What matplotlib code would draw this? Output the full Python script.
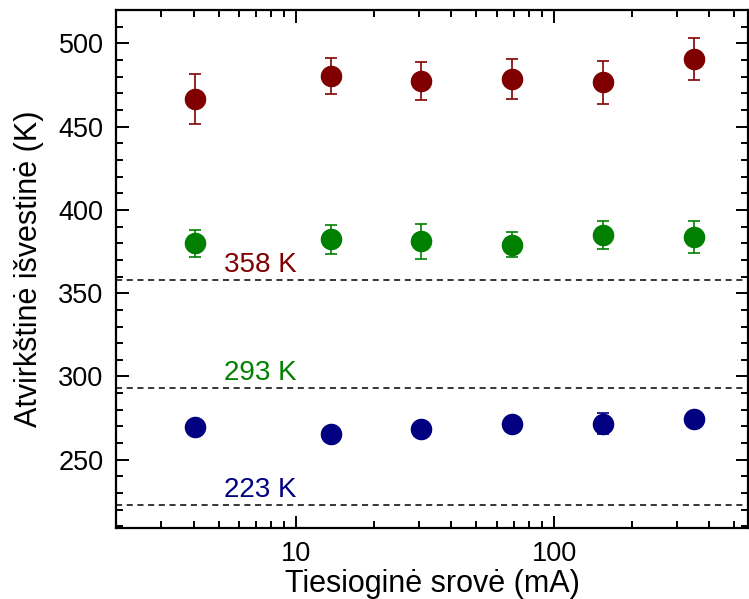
import matplotlib
matplotlib.use('Agg')
import matplotlib.pyplot as plt
from matplotlib.ticker import LogLocator, MultipleLocator, NullFormatter, FuncFormatter

plt.rcParams['font.family'] = ['Liberation Sans', 'DejaVu Sans']

# srovė (mA)
current = [4.05, 13.6, 30.6, 69, 155, 350]

# 358 K
t358 = [466.6, 480.4, 477.4, 478.6, 476.6, 490.6]
e358 = [15.0, 10.7, 11.6, 12.0, 12.9, 12.4]
# 293 K
t293 = [380.0, 382.4, 381.2, 379.2, 385.0, 384.0]
e293 = [8.0, 8.6, 10.5, 7.3, 8.4, 9.6]
# 223 K
t223 = [269.9, 265.3, 268.7, 271.7, 271.7, 274.3]
e223 = [3.0, 3.0, 3.0, 3.0, 6.5, 3.0]

levels = [358, 293, 223]
level_labels = ['358 K', '293 K', '223 K']
colors = ['#800000', '#008000', '#000080']

fig = plt.figure(figsize=(7.49, 5.99), dpi=100)
ax = fig.add_axes([0.155, 0.1185, 0.8435, 0.8645])

for y, e, c in zip([t358, t293, t223], [e358, e293, e223], colors):
    ax.errorbar(current, y, yerr=e, fmt='o', color=c, ms=14.5, ecolor=c,
                elinewidth=1.2, capsize=4, capthick=1.2, zorder=3)

for lvl, lab, c in zip(levels, level_labels, colors):
    ax.axhline(lvl, color='black', ls=(0, (4, 3)), lw=1.1, zorder=1)
    ax.text(5.25, lvl + 1.2, lab, color=c, fontsize=20, ha='left', va='bottom')

ax.set_xscale('log')
ax.set_xlim(2, 565)
ax.set_ylim(209, 520)

ax.xaxis.set_major_locator(LogLocator(base=10, numticks=10))
ax.xaxis.set_minor_locator(LogLocator(base=10, subs=range(2, 10), numticks=20))
ax.xaxis.set_major_formatter(FuncFormatter(lambda v, p: '%g' % v))
ax.xaxis.set_minor_formatter(NullFormatter())
ax.yaxis.set_major_locator(MultipleLocator(50))
ax.yaxis.set_minor_locator(MultipleLocator(10))

ax.tick_params(which='both', direction='in', top=True, right=True, width=1.4,
               labelsize=19.5)
ax.tick_params(which='major', length=9)
ax.tick_params(which='minor', length=5)
ax.tick_params(axis='x', pad=9)
ax.tick_params(axis='y', pad=9)
for s in ax.spines.values():
    s.set_linewidth(1.6)

ax.set_xlabel('Tiesioginė srovė (mA)', fontsize=22, labelpad=2)
ax.set_ylabel('Atvirkštinė išvestinė (K)', fontsize=22, labelpad=10)

fig.savefig('out.png', dpi=100)
